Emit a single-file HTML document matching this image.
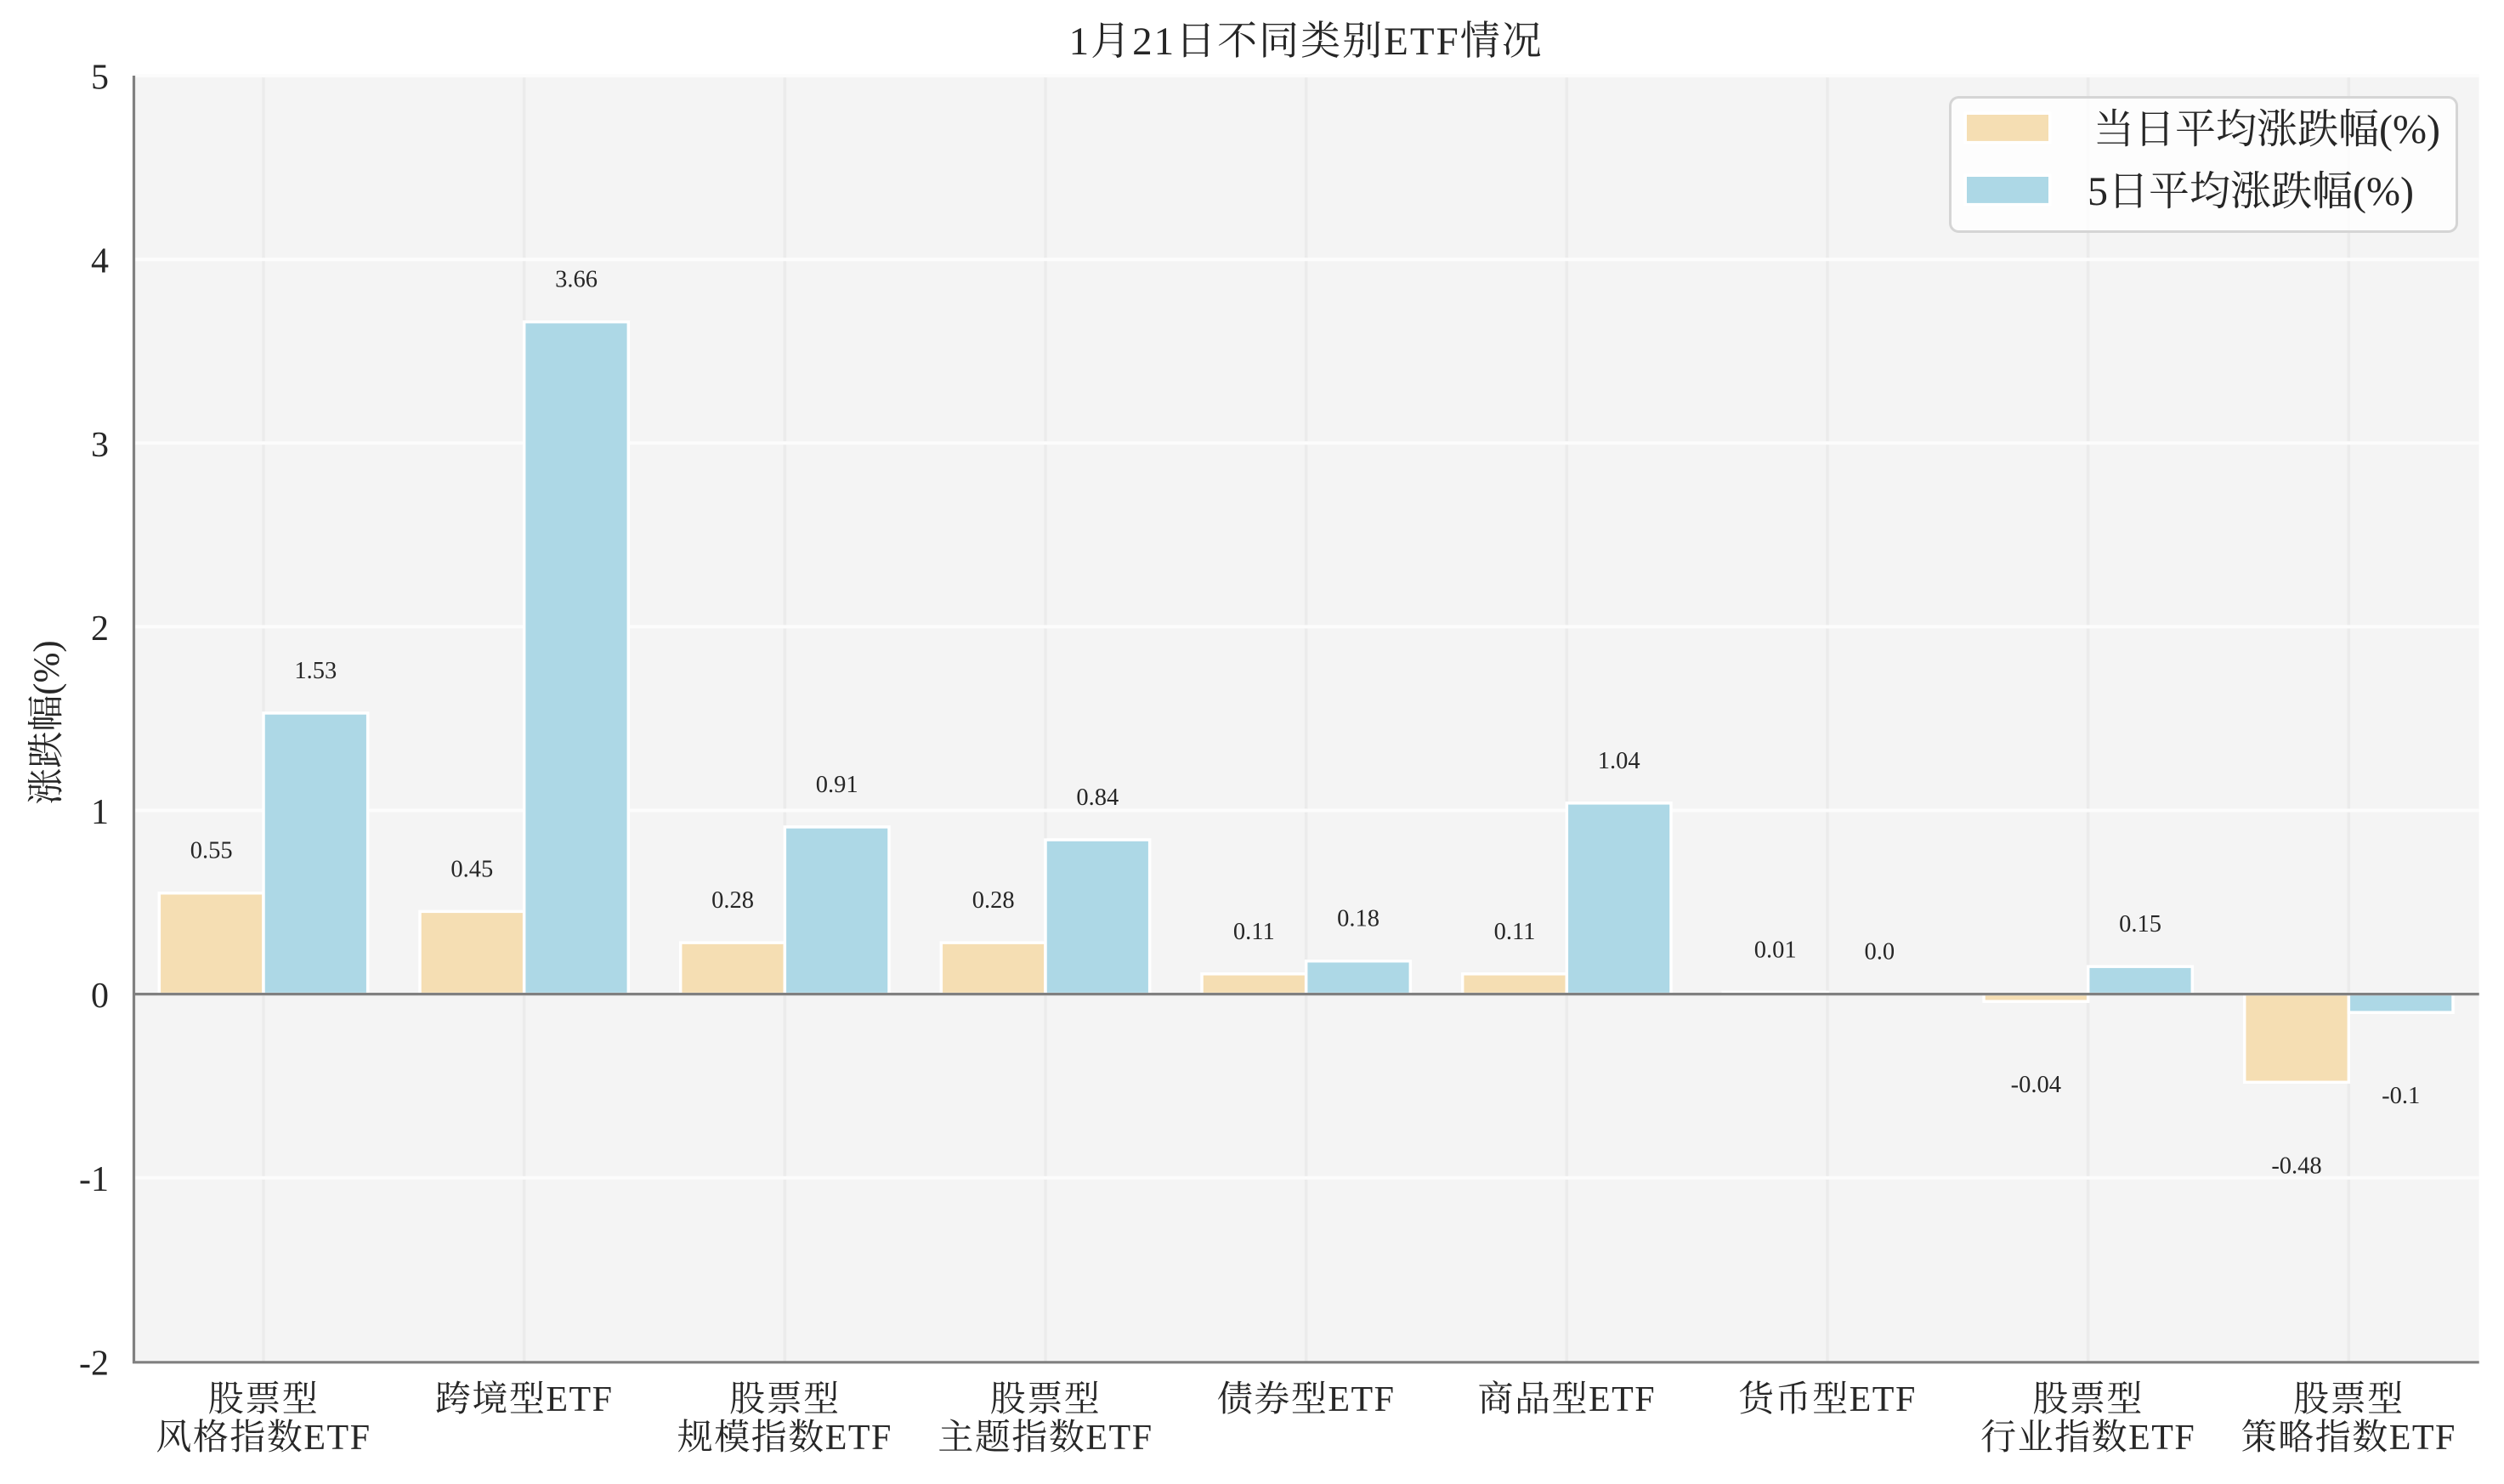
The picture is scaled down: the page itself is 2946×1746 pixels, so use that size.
<!DOCTYPE html>
<html><head><meta charset="utf-8"><style>
html,body{margin:0;padding:0;background:#fff;}
svg{display:block;}
text{font-family:"Liberation Serif","Noto Serif CJK SC",serif;fill:#262626;}
</style></head><body>
<svg width="2946" height="1746" viewBox="0 0 2946 1746" xmlns="http://www.w3.org/2000/svg">
<rect x="0" y="0" width="2946" height="1746" fill="#fff"/>
<!-- axes bg -->
<rect x="156.7" y="89.1" width="2760" height="1512.7" fill="#f4f4f4"/>
<!-- vertical grid -->
<g stroke="#ebebeb" stroke-width="3.5">
<line x1="310" y1="89" x2="310" y2="1602"/>
<line x1="616.67" y1="89" x2="616.67" y2="1602"/>
<line x1="923.33" y1="89" x2="923.33" y2="1602"/>
<line x1="1230" y1="89" x2="1230" y2="1602"/>
<line x1="1536.67" y1="89" x2="1536.67" y2="1602"/>
<line x1="1843.33" y1="89" x2="1843.33" y2="1602"/>
<line x1="2150" y1="89" x2="2150" y2="1602"/>
<line x1="2456.67" y1="89" x2="2456.67" y2="1602"/>
<line x1="2763.33" y1="89" x2="2763.33" y2="1602"/>
</g>
<!-- horizontal grid -->
<g stroke="#fcfcfc" stroke-width="4">
<line x1="156.7" y1="89.1" x2="2916.7" y2="89.1"/>
<line x1="156.7" y1="305.2" x2="2916.7" y2="305.2"/>
<line x1="156.7" y1="521.3" x2="2916.7" y2="521.3"/>
<line x1="156.7" y1="737.4" x2="2916.7" y2="737.4"/>
<line x1="156.7" y1="953.5" x2="2916.7" y2="953.5"/>
<line x1="156.7" y1="1385.7" x2="2916.7" y2="1385.7"/>
</g>
<!-- bars -->
<g stroke="#fff" stroke-width="3.5">
<g fill="#f5deb3">
<rect x="187.33" y="1050.74" width="122.67" height="118.86"/>
<rect x="494" y="1072.35" width="122.67" height="97.25"/>
<rect x="800.67" y="1109.09" width="122.67" height="60.51"/>
<rect x="1107.33" y="1109.09" width="122.67" height="60.51"/>
<rect x="1414" y="1145.83" width="122.67" height="23.77"/>
<rect x="1720.67" y="1145.83" width="122.67" height="23.77"/>
<rect x="2027.33" y="1167.44" width="122.67" height="2.16"/>
<rect x="2334" y="1169.6" width="122.67" height="8.64"/>
<rect x="2640.67" y="1169.6" width="122.67" height="103.73"/>
</g>
<g fill="#add8e6">
<rect x="310" y="838.97" width="122.67" height="330.63"/>
<rect x="616.67" y="378.67" width="122.67" height="790.93"/>
<rect x="923.33" y="972.95" width="122.67" height="196.65"/>
<rect x="1230" y="988.08" width="122.67" height="181.52"/>
<rect x="1536.67" y="1130.70" width="122.67" height="38.90"/>
<rect x="1843.33" y="944.86" width="122.67" height="224.74"/>
<rect x="2456.67" y="1137.18" width="122.67" height="32.42"/>
<rect x="2763.33" y="1169.6" width="122.67" height="21.61"/>
</g>
</g>
<!-- zero line -->
<line x1="156.7" y1="1169.6" x2="2916.7" y2="1169.6" stroke="#808080" stroke-width="3.2"/>
<!-- spines -->
<line x1="157.5" y1="89" x2="157.5" y2="1604" stroke="#808080" stroke-width="3.2"/>
<line x1="156" y1="1602.8" x2="2916.7" y2="1602.8" stroke="#808080" stroke-width="3.2"/>
<!-- value labels -->
<g font-size="28.5" text-anchor="middle">
<text x="248.67" y="1009.7">0.55</text>
<text x="371.33" y="798.0">1.53</text>
<text x="555.33" y="1031.4">0.45</text>
<text x="678" y="337.7">3.66</text>
<text x="862" y="1068.1">0.28</text>
<text x="984.67" y="931.9">0.91</text>
<text x="1168.67" y="1068.1">0.28</text>
<text x="1291.33" y="947.1">0.84</text>
<text x="1475.33" y="1104.8">0.11</text>
<text x="1598" y="1089.7">0.18</text>
<text x="1782" y="1104.8">0.11</text>
<text x="1904.67" y="903.9">1.04</text>
<text x="2088.67" y="1126.4">0.01</text>
<text x="2211.33" y="1128.6">0.0</text>
<text x="2395.33" y="1285.2">-0.04</text>
<text x="2518" y="1096.2">0.15</text>
<text x="2702" y="1380.3">-0.48</text>
<text x="2824.67" y="1298.2">-0.1</text>
</g>
<!-- y tick labels -->
<g font-size="42" text-anchor="end">
<text x="128" y="104.6">5</text>
<text x="128" y="320.7">4</text>
<text x="128" y="536.8">3</text>
<text x="128" y="752.9">2</text>
<text x="128" y="969">1</text>
<text x="128" y="1185.1">0</text>
<text x="128" y="1401.2">-1</text>
<text x="128" y="1617.3">-2</text>
</g>
<!-- y label -->
<text font-size="43" text-anchor="middle" transform="translate(69,850) rotate(-90)">涨跌幅(%)</text>
<!-- x tick labels -->
<g font-size="42" text-anchor="middle" letter-spacing="1.5">
<text x="310" y="1660">股票型</text>
<text x="310" y="1705">风格指数ETF</text>
<text x="616.67" y="1660">跨境型ETF</text>
<text x="923.33" y="1660">股票型</text>
<text x="923.33" y="1705">规模指数ETF</text>
<text x="1230" y="1660">股票型</text>
<text x="1230" y="1705">主题指数ETF</text>
<text x="1536.67" y="1660">债券型ETF</text>
<text x="1843.33" y="1660">商品型ETF</text>
<text x="2150" y="1660">货币型ETF</text>
<text x="2456.67" y="1660">股票型</text>
<text x="2456.67" y="1705">行业指数ETF</text>
<text x="2763.33" y="1660">股票型</text>
<text x="2763.33" y="1705">策略指数ETF</text>
</g>
<!-- title -->
<text x="1536.7" y="64" font-size="47" text-anchor="middle" letter-spacing="2">1月21日不同类别ETF情况</text>
<!-- legend -->
<rect x="2294.5" y="114.5" width="596" height="158" rx="10" ry="10" fill="#fff" fill-opacity="0.8" stroke="#d5d5d5" stroke-width="3"/>
<rect x="2312.3" y="133.3" width="99.4" height="34.3" fill="#f5deb3" stroke="#fff" stroke-width="3.4"/>
<rect x="2312.3" y="206.3" width="99.4" height="34.3" fill="#add8e6" stroke="#fff" stroke-width="3.4"/>
<text x="2463" y="168" font-size="48">当日平均涨跌幅(%)</text>
<text x="2456" y="241" font-size="48">5日平均涨跌幅(%)</text>
</svg>
</body></html>
